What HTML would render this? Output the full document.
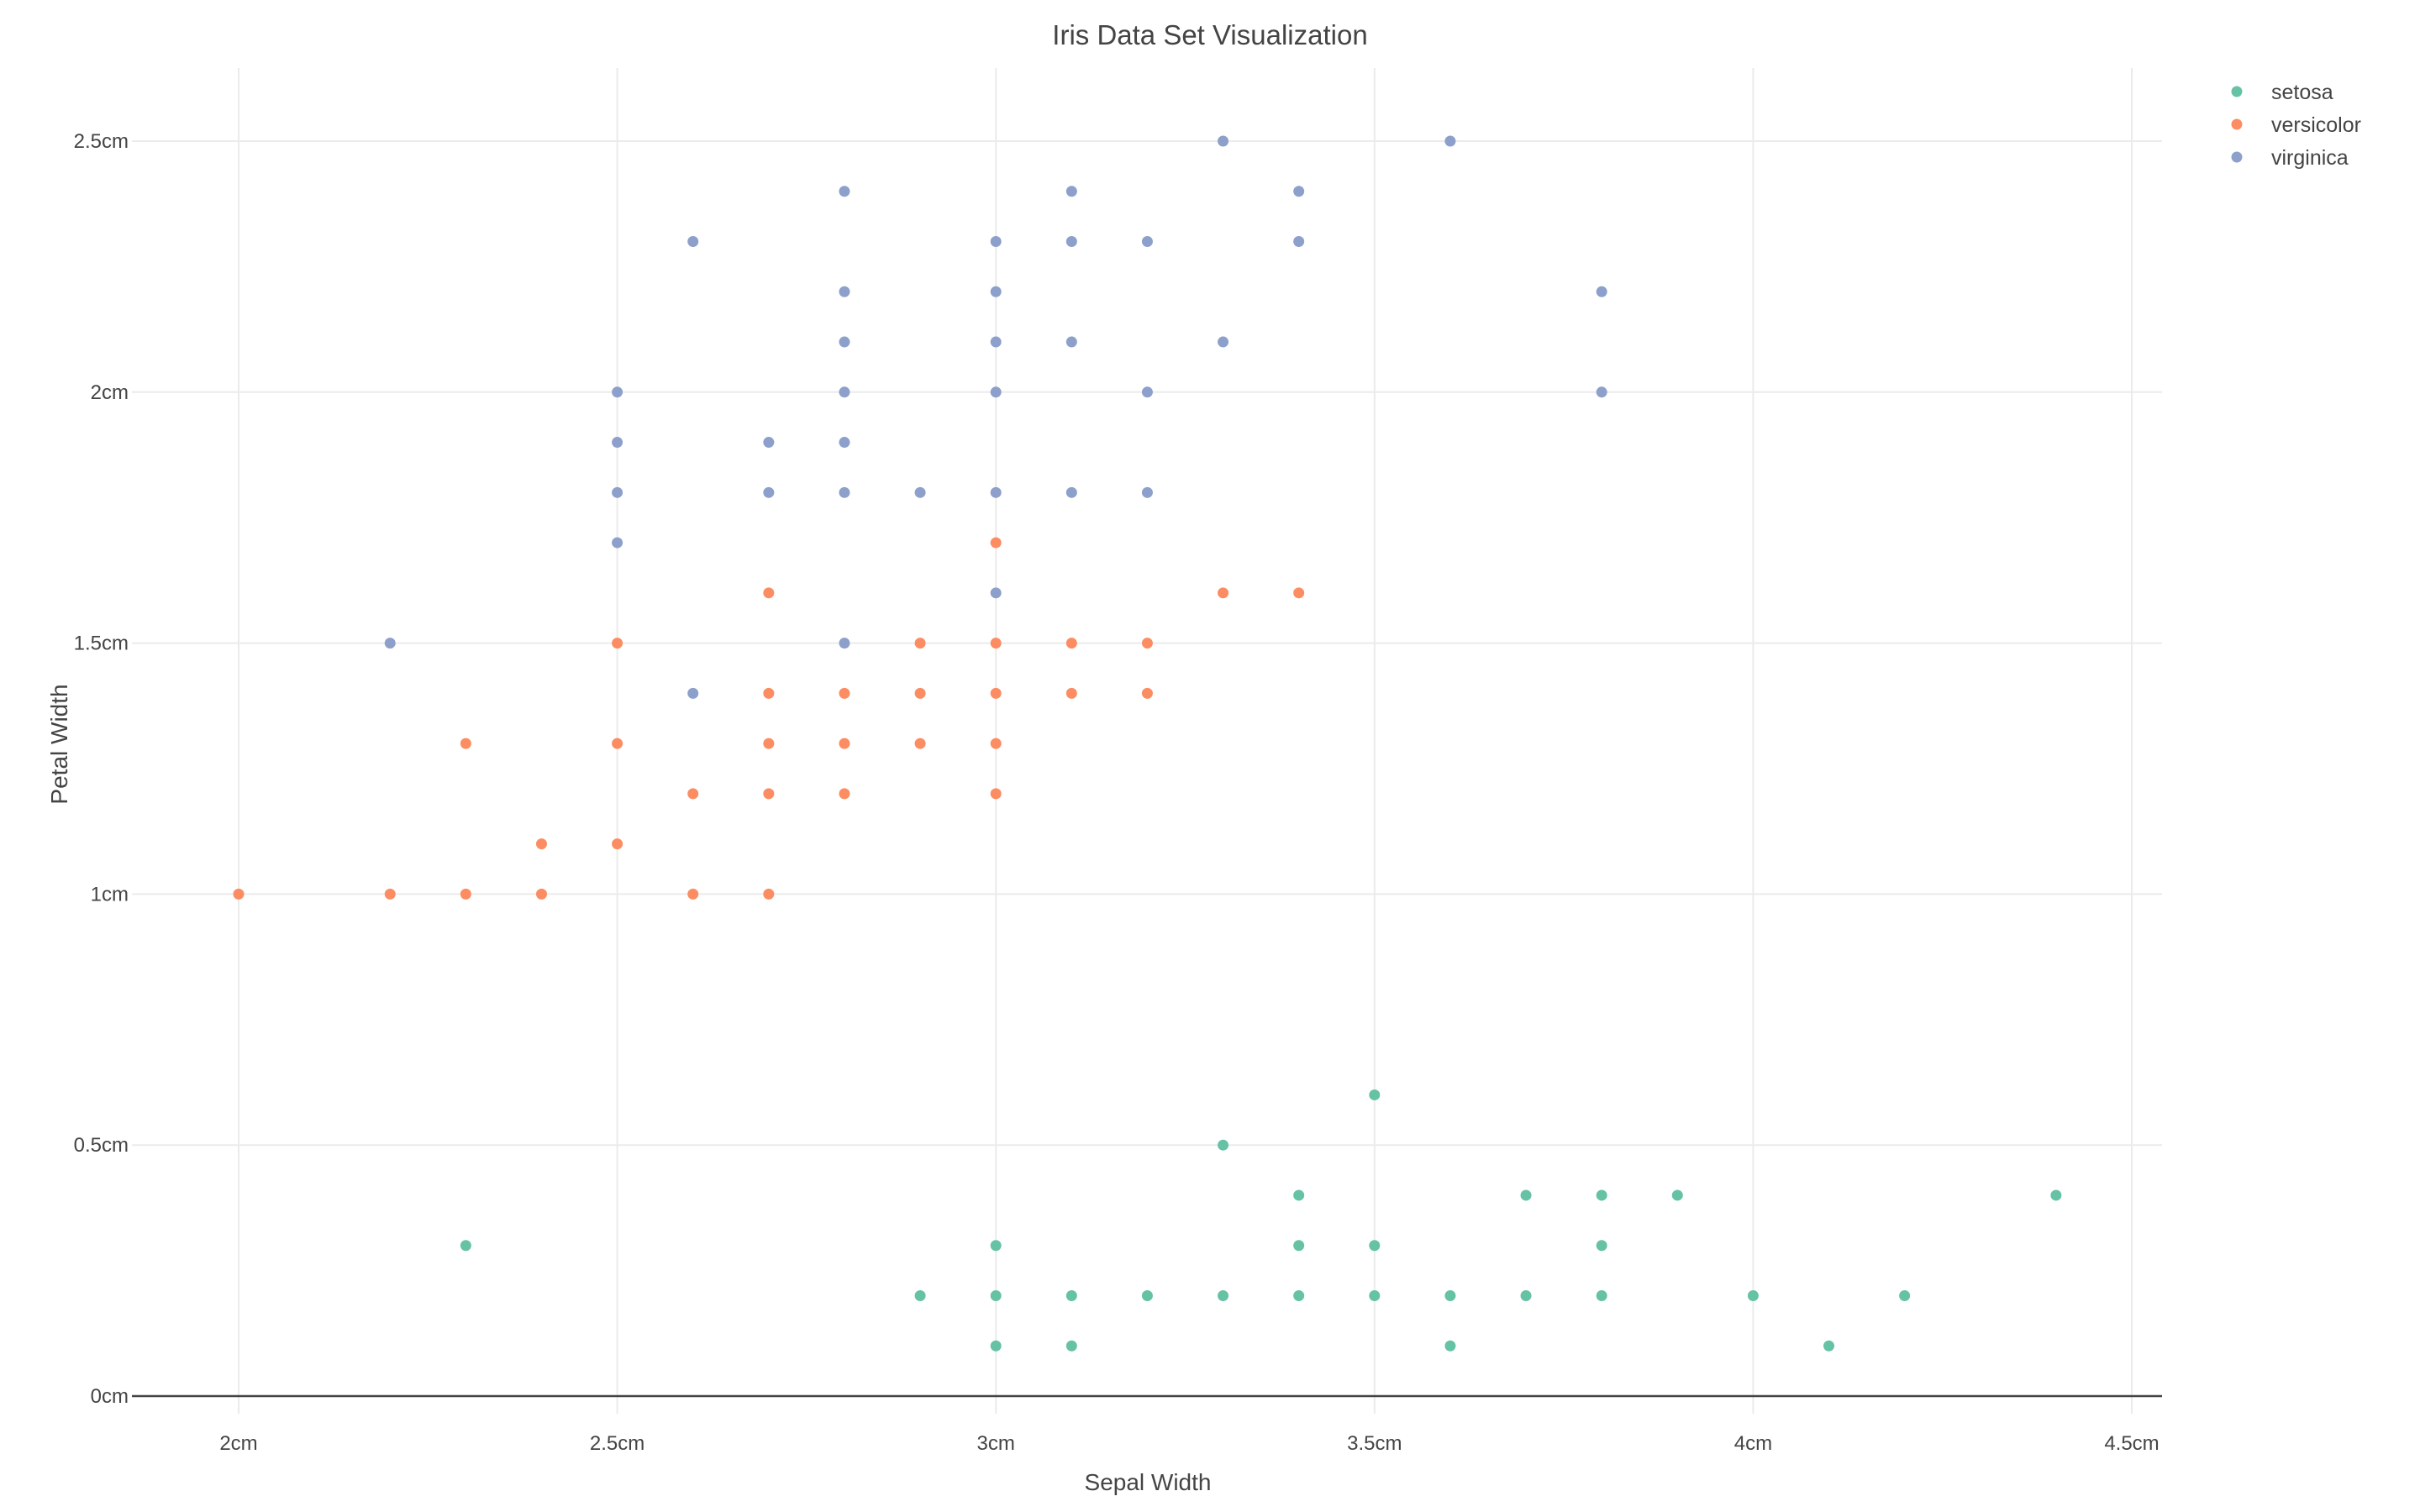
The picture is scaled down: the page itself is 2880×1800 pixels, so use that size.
<!DOCTYPE html>
<html><head><meta charset="utf-8"><style>
html,body{margin:0;padding:0;background:#fff;}
svg{display:block;font-family:"Liberation Sans",sans-serif;}
</style></head><body>
<svg id="chart" width="2880" height="1800" viewBox="0 0 2880 1800">
<g id="grid"></g>
<g id="axes"></g>
<g id="points"></g>
<text x="1440" y="53" text-anchor="middle" font-size="33" fill="#444">Iris Data Set Visualization</text>
<text x="1366" y="1774" text-anchor="middle" font-size="28" fill="#444">Sepal Width</text>
<text transform="translate(80,886) rotate(-90)" text-anchor="middle" font-size="28" fill="#444">Petal Width</text>
<g id="legend"></g>
</svg>
<script>
const xTicks = [2, 2.5, 3, 3.5, 4, 4.5];
const yTicks = [0, 0.5, 1, 1.5, 2, 2.5];
const xTickLabels = ["2cm","2.5cm","3cm","3.5cm","4cm","4.5cm"];
const yTickLabels = ["0cm","0.5cm","1cm","1.5cm","2cm","2.5cm"];
const seriesNames = ["setosa","versicolor","virginica"];
const seriesColors = ["#66c2a5","#fc8d62","#8da0cb"];
const setosaX = [2.3,3.5,3.3,3.4,3.7,3.8,3.9,4.4,3.0,3.4,3.5,3.8,2.9,3.0,3.1,3.2,3.3,3.4,3.5,3.6,3.7,3.8,4.0,4.2,3.0,3.1,3.6,4.1];
const setosaY = [0.3,0.6,0.5,0.4,0.4,0.4,0.4,0.4,0.3,0.3,0.3,0.3,0.2,0.2,0.2,0.2,0.2,0.2,0.2,0.2,0.2,0.2,0.2,0.2,0.1,0.1,0.1,0.1];
const versicolorX = [2.0,2.2,2.3,2.4,2.6,2.7,2.4,2.5,2.6,2.7,2.8,3.0,2.3,2.5,2.7,2.8,2.9,3.0,2.7,2.8,2.9,3.0,3.1,3.2,2.5,2.9,3.0,3.1,3.2,2.7,3.3,3.4,3.0];
const versicolorY = [1.0,1.0,1.0,1.0,1.0,1.0,1.1,1.1,1.2,1.2,1.2,1.2,1.3,1.3,1.3,1.3,1.3,1.3,1.4,1.4,1.4,1.4,1.4,1.4,1.5,1.5,1.5,1.5,1.5,1.6,1.6,1.6,1.7];
const virginicaX = [2.2,2.6,2.8,3.0,2.5,2.5,2.7,2.8,2.9,3.0,3.1,3.2,2.5,2.7,2.8,2.5,2.8,3.0,3.2,3.8,2.8,3.0,3.1,3.3,2.8,3.0,3.8,2.6,3.0,3.1,3.2,3.4,2.8,3.1,3.4,3.3,3.6];
const virginicaY = [1.5,1.4,1.5,1.6,1.7,1.8,1.8,1.8,1.8,1.8,1.8,1.8,1.9,1.9,1.9,2.0,2.0,2.0,2.0,2.0,2.1,2.1,2.1,2.1,2.2,2.2,2.2,2.3,2.3,2.3,2.3,2.3,2.4,2.4,2.4,2.5,2.5];

const NS = "http://www.w3.org/2000/svg";
const plotL = 157, plotR = 2573, plotT = 81, plotB = 1683;
function xScale(v){ return 284 + (v - 2) * 901.2; }
function yScale(v){ return 1662 - v * 597.6; }
function mk(tag, attrs, parent){
  const e = document.createElementNS(NS, tag);
  for (const k in attrs) e.setAttribute(k, attrs[k]);
  parent.appendChild(e);
  return e;
}
const grid = document.getElementById('grid');
const axes = document.getElementById('axes');
xTicks.forEach((t, i) => {
  const l = mk('line', {x1:xScale(t), x2:xScale(t), y1:plotT, y2:plotB, stroke:'#ebebeb', 'stroke-width':2}, grid);
  
  
  const tx = mk('text', {x:xScale(t), y:1726, 'text-anchor':'middle', 'font-size':24, fill:'#444'}, axes);
  tx.textContent = xTickLabels[i];
  
  
});
yTicks.forEach((t, i) => {
  if (t !== 0) {
    const l = mk('line', {x1:plotL, x2:plotR, y1:yScale(t), y2:yScale(t), stroke:'#ebebeb', 'stroke-width':2}, grid);
    
    
  }
  const tx = mk('text', {x:153, y:yScale(t) + 8, 'text-anchor':'end', 'font-size':24, fill:'#444'}, axes);
  tx.textContent = yTickLabels[i];
  
  
});
const zl = mk('line', {x1:plotL, x2:plotR, y1:yScale(0), y2:yScale(0), stroke:'#444', 'stroke-width':2.5}, axes);



const pts = document.getElementById('points');
const allX = [setosaX, versicolorX, virginicaX];
const allY = [setosaY, versicolorY, virginicaY];
allX.forEach((xs, s) => {
  xs.forEach((xv, i) => {
    const c = mk('circle', {cx:xScale(xv), cy:yScale(allY[s][i]), r:6.5, fill:seriesColors[s]}, pts);
    
    
  });
});
const leg = document.getElementById('legend');
seriesNames.forEach((n, i) => {
  const y = 109 + i * 39;
  const g = mk('g', {}, leg);
  
  
  mk('circle', {cx:2662, cy:y, r:6.5, fill:seriesColors[i]}, g);
  const t = mk('text', {x:2703, y:y + 9, 'font-size':25, fill:'#444'}, g);
  t.textContent = n;
});
</script>
</body></html>
